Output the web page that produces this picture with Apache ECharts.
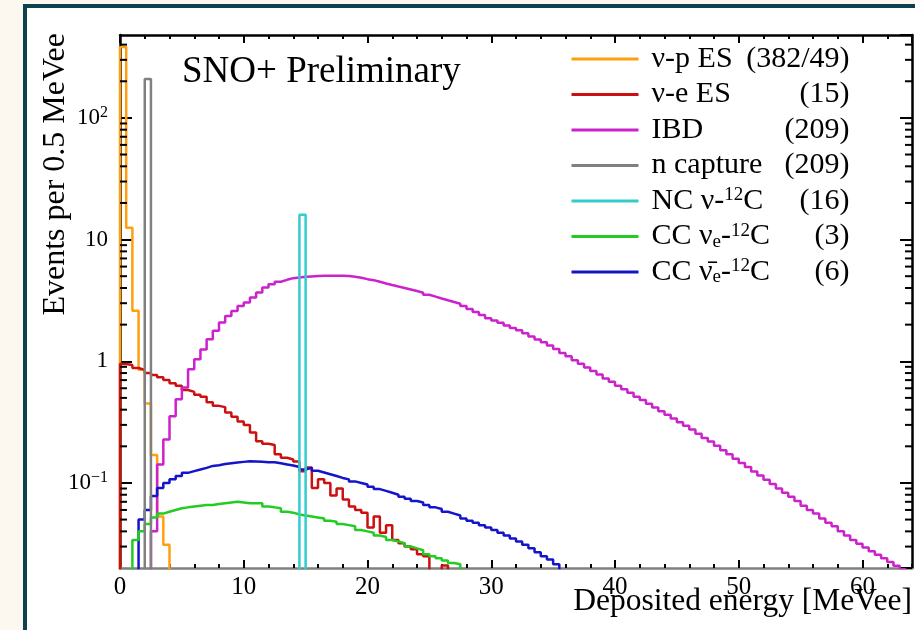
<!DOCTYPE html>
<html>
<head>
<meta charset="utf-8">
<script src="https://cdn.jsdelivr.net/npm/echarts@6/dist/echarts.min.js"></script>
<style>
  html, body { margin: 0; padding: 0; background: #fcf8f0; }
  #frame { position: absolute; left: 23px; top: 4px; width: 1000px; height: 700px;
           border-left: 4px solid #0c4250; border-top: 4px solid #0c4250; background: #ffffff; }
  #chart { position: absolute; left: 0; top: 0; width: 915px; height: 630px; }
</style>
</head>
<body>
<div id="frame"></div>
<div id="chart"></div>
<script>
// ---------------- data ----------------
const BIN = 0.5;                 // MeVee per bin
const FLOOR = 0.001;             // empty bin (below the axis minimum)

const seriesNames  = ['ν-p ES', 'ν-e ES', 'IBD', 'n capture', 'NC ν-12C', 'CC νe-12C', 'CC ν̄e-12C'];
const seriesCounts = ['(382/49)', '(15)', '(209)', '(209)', '(16)', '(3)', '(6)'];
const seriesColors = ['#ff9f0f', '#cc1010', '#cc22cc', '#808080', '#33cccc', '#22cc22', '#1414c8'];

// first bin low edge of each histogram
const vpStart = 0.0;
const vpES = [382, 12.5, 2.6, 0.85, 0.45, 0.17, 0.053, 0.031];

const veStart = 0.0;
const veES = [0.95, 0.93, 0.88, 0.85, 0.80, 0.77, 0.74, 0.70, 0.66, 0.63,
              0.58, 0.56, 0.53, 0.51, 0.46, 0.43, 0.42, 0.38, 0.35, 0.32,
              0.30, 0.26, 0.22, 0.21, 0.205, 0.172, 0.161, 0.156, 0.150,
              0.125, 0.134, 0.091, 0.107, 0.100, 0.079, 0.090, 0.073, 0.064, 0.060,
              0.057, 0.043, 0.053, 0.039, 0.045, 0.034, 0.032, 0.030, 0.0285, 0.026, 0.025,
              0.001, 0.001, 0.021];

const ibdStart = 2.5;
const ibd = [0.04, 0.142, 0.228, 0.354, 0.487, 0.61, 0.86, 1.04, 1.25, 1.52,
             1.78, 2.08, 2.36, 2.59, 2.85, 3.04, 3.34, 3.67, 4.04, 4.30,
             4.50, 4.67, 4.82, 4.89, 4.94, 4.98, 5.02, 5.04, 5.05, 5.05,
             5.04, 5.02, 4.95, 4.85, 4.73, 4.64, 4.50, 4.36, 4.23, 4.11,
             4.00, 3.89, 3.78, 3.66, 3.52, 3.40, 3.28, 3.17, 3.07, 2.97,
             2.85, 2.69, 2.54, 2.40, 2.26, 2.16, 2.07, 1.97, 1.88, 1.80,
             1.70, 1.60, 1.51, 1.43, 1.35, 1.26, 1.17, 1.10, 1.02, 0.955,
             0.89, 0.83, 0.78, 0.72, 0.68, 0.63, 0.59, 0.55, 0.51, 0.48,
             0.447, 0.417, 0.389, 0.363, 0.339, 0.316, 0.295, 0.275, 0.254, 0.234,
             0.219, 0.202, 0.186, 0.172, 0.158, 0.146, 0.135, 0.124, 0.115, 0.106,
             0.098, 0.090, 0.083, 0.077, 0.071, 0.065, 0.060, 0.056, 0.051, 0.047,
             0.044, 0.040, 0.037, 0.034, 0.0316, 0.0295, 0.0275, 0.0257, 0.024, 0.0224,
             0.0209, 0.0195];

const nCapStart = 2.0;
const nCap = [209];

const ncStart = 14.5;
const ncC12 = [16];

const ccStart = 1.0;
const ccNue = [0.034, 0.040, 0.046, 0.052, 0.056, 0.058, 0.060, 0.062, 0.063, 0.064,
               0.065, 0.066, 0.066, 0.067, 0.068, 0.069, 0.070, 0.069, 0.068, 0.068,
               0.068, 0.064, 0.063, 0.062, 0.058, 0.057, 0.055, 0.054, 0.053, 0.052,
               0.051, 0.049, 0.048, 0.046, 0.045, 0.044, 0.041, 0.040, 0.039, 0.037,
               0.036, 0.034, 0.033, 0.032, 0.030, 0.029, 0.028, 0.026, 0.025, 0.024,
               0.023, 0.022, 0.0215];

const ccBarStart = 1.5;
const ccNuebar = [0.05, 0.06, 0.078, 0.091, 0.100, 0.107, 0.114, 0.121, 0.125, 0.129,
                  0.133, 0.138, 0.140, 0.143, 0.145, 0.147, 0.149, 0.151, 0.150, 0.149,
                  0.148, 0.148, 0.145, 0.142, 0.139, 0.135, 0.129, 0.133, 0.126, 0.122,
                  0.118, 0.114, 0.110, 0.107, 0.103, 0.100, 0.097, 0.093, 0.089, 0.086,
                  0.083, 0.080, 0.077, 0.074, 0.071, 0.069, 0.066, 0.063, 0.061, 0.058,
                  0.056, 0.054, 0.051, 0.049, 0.047, 0.045, 0.043, 0.041, 0.039, 0.037,
                  0.035, 0.033, 0.031, 0.029, 0.027, 0.025, 0.0235, 0.0215];

// axes / ticks
const xMin = 0, xMax = 64;
const xTickLabels = ['0', '10', '20', '30', '40', '50', '60'];
const yMin = 0.02, yMax = 480;
const yTickValues = [0.1, 1, 10, 100];
const yTickBase   = ['10', '1', '10', '10'];
const yTickExp    = ['−1', '', '', '2'];
const yMinorTicks = [0.03, 0.04, 0.05, 0.06, 0.07, 0.08, 0.09,
                     0.2, 0.3, 0.4, 0.5, 0.6, 0.7, 0.8, 0.9,
                     2, 3, 4, 5, 6, 7, 8, 9,
                     20, 30, 40, 50, 60, 70, 80, 90,
                     200, 300, 400];

// legend label markup (sub/superscripts)
const legendMarkup = ['ν-p ES', 'ν-e ES', 'IBD', 'n capture',
                      'NC ν-{sup|12}C', 'CC ν{sub|e}-{sup|12}C', 'CC ν\u0304{sub|e}-{sup|12}C'];

// ---------------- build ----------------
const FONT = 'Liberation Serif';

function hist(start, vals) {
  const d = [[start - BIN, FLOOR]];
  vals.forEach((v, i) => d.push([start + i * BIN, v]));
  d.push([start + vals.length * BIN, FLOOR]);
  return d;
}

const histData = [
  hist(vpStart, vpES), hist(veStart, veES), hist(ibdStart, ibd), hist(nCapStart, nCap),
  hist(ncStart, ncC12), hist(ccStart, ccNue), hist(ccBarStart, ccNuebar)
];

const drawOrder = [0, 1, 2, 6, 5, 3, 4];
const series = drawOrder.map(i => ({
  name: seriesNames[i],
  type: 'line',
  step: 'end',
  data: histData[i],
  symbol: 'none',
  showSymbol: false,
  clip: true,
  lineStyle: { color: seriesColors[i], width: 2.5 },
  itemStyle: { color: seriesColors[i] },
  emphasis: { disabled: true },
  z: 3
}));

// minor log ticks on left and right frame edges
series.push({
  type: 'custom',
  silent: true,
  xAxisIndex: 0, yAxisIndex: 0,
  data: yMinorTicks.map(v => [xMin, v]),
  z: 10,
  renderItem: function (params, api) {
    const v = api.value(1);
    const pl = api.coord([xMin, v]);
    const pr = api.coord([xMax, v]);
    return {
      type: 'group',
      children: [
        { type: 'line', shape: { x1: pl[0], y1: pl[1], x2: pl[0] + 7, y2: pl[1] }, style: { stroke: '#000', lineWidth: 2 } },
        { type: 'line', shape: { x1: pr[0] - 7, y1: pr[1], x2: pr[0], y2: pr[1] }, style: { stroke: '#000', lineWidth: 2 } }
      ]
    };
  }
});

const tickStyle = { color: '#000', width: 2 };

const option = {
  animation: false,
  backgroundColor: 'transparent',
  title: {
    text: 'SNO+ Preliminary',
    left: 182, top: 54, padding: 0,
    textStyle: { fontFamily: FONT, fontSize: 37, fontWeight: 'normal', color: '#000' }
  },
  legend: {
    orient: 'vertical',
    left: 570, top: 44, padding: 0,
    itemWidth: 67, itemHeight: 30, itemGap: 5.5,
    selectedMode: false,
    data: seriesNames,
    itemStyle: { opacity: 0 },
    lineStyle: { width: 3 },
    formatter: function (name) {
      const i = seriesNames.indexOf(name);
      return legendMarkup[i] + '{c|' + seriesCounts[i] + '}';
    },
    textStyle: {
      fontFamily: FONT, fontSize: 30, lineHeight: 30, color: '#000',
      width: 198, overflow: 'none', padding: [0, 0, 0, 8],
      rich: {
        sup: { fontFamily: FONT, fontSize: 19, lineHeight: 18, verticalAlign: 'top', color: '#000' },
        sub: { fontFamily: FONT, fontSize: 19, lineHeight: 16, verticalAlign: 'bottom', color: '#000' },
        c:   { fontFamily: FONT, fontSize: 30, lineHeight: 30, align: 'right', color: '#000' }
      }
    }
  },
  grid: { left: 120, right: 3, top: 35, bottom: 62, outerBoundsMode: 'none', containLabel: false },
  xAxis: [
    {
      type: 'value', position: 'bottom', min: xMin, max: xMax, interval: 10,
      name: 'Deposited energy [MeVee]', nameLocation: 'end', nameGap: 0, nameMoveOverlap: false,
      nameTextStyle: { fontFamily: FONT, fontSize: 31.5, lineHeight: 31, color: '#000',
                       align: 'right', verticalAlign: 'top', padding: [18, 0, 0, 0] },
      axisLine: { show: true, onZero: false, lineStyle: { color: '#808080', width: 2.5 } },
      axisTick: { show: true, inside: true, length: 8, lineStyle: tickStyle },
      axisLabel: { showMaxLabel: false, margin: 7, fontFamily: FONT, fontSize: 25, color: '#000',
                   formatter: v => { const s = String(Math.round(v)); return xTickLabels.includes(s) ? s : ''; } },
      splitLine: { show: false }
    },
    {
      type: 'value', position: 'bottom', min: xMin, max: xMax, interval: 2,
      axisLine: { show: false }, axisLabel: { show: false }, splitLine: { show: false },
      axisTick: { show: true, inside: true, length: 4, lineStyle: tickStyle }
    },
    {
      type: 'value', position: 'top', min: xMin, max: xMax, interval: 10,
      axisLine: { show: true, onZero: false, lineStyle: { color: '#000', width: 2.5 } },
      axisLabel: { show: false }, splitLine: { show: false },
      axisTick: { show: true, inside: true, length: 8, lineStyle: tickStyle }
    },
    {
      type: 'value', position: 'top', min: xMin, max: xMax, interval: 2,
      axisLine: { show: false }, axisLabel: { show: false }, splitLine: { show: false },
      axisTick: { show: true, inside: true, length: 4, lineStyle: tickStyle }
    }
  ],
  yAxis: [
    {
      type: 'log', logBase: 10, position: 'left', min: yMin, max: yMax,
      name: 'Events per 0.5 MeVee', nameLocation: 'end', nameRotate: 90, nameGap: 2, nameMoveOverlap: false,
      nameTextStyle: { fontFamily: FONT, fontSize: 32, lineHeight: 32, color: '#000',
                       align: 'right', verticalAlign: 'bottom', padding: [0, 0, 48, 0] },
      axisLine: { show: true, onZero: false, lineStyle: { color: '#000', width: 2.5 } },
      axisTick: { show: true, inside: true, length: 12, lineStyle: tickStyle },
      axisLabel: {
        showMinLabel: false, showMaxLabel: false, margin: 12,
        fontFamily: FONT, fontSize: 23, lineHeight: 26, color: '#000',
        formatter: function (v) {
          const p = Math.round(Math.log10(v));
          const i = yTickValues.findIndex(t => Math.round(Math.log10(t)) === p && Math.abs(Math.log10(v) - p) < 1e-6);
          if (i < 0) return '';
          return yTickExp[i] ? '{b|' + yTickBase[i] + '}{s|' + yTickExp[i] + '}' : yTickBase[i];
        },
        rich: {
          b: { fontFamily: FONT, fontSize: 23, lineHeight: 26, color: '#000' },
          s: { fontFamily: FONT, fontSize: 16, lineHeight: 16, verticalAlign: 'top', color: '#000' }
        }
      },
      splitLine: { show: false }
    },
    {
      type: 'log', logBase: 10, position: 'right', min: yMin, max: yMax,
      axisLine: { show: true, onZero: false, lineStyle: { color: '#000', width: 2.5 } },
      axisTick: { show: true, inside: true, length: 12, lineStyle: tickStyle },
      axisLabel: { show: false }, splitLine: { show: false }
    }
  ],
  series: series
};

const chart = echarts.init(document.getElementById('chart'), null, { renderer: 'canvas' });
chart.setOption(option);
</script>
</body>
</html>
